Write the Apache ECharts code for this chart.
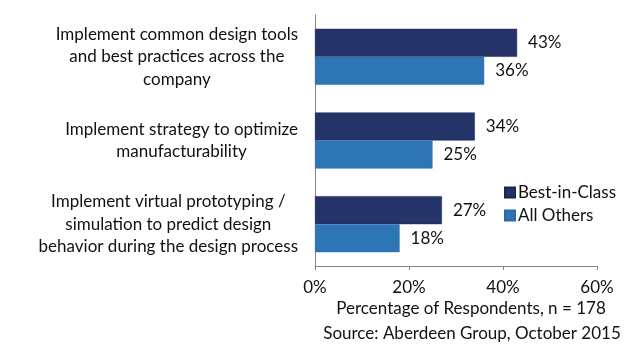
<!DOCTYPE html>
<html>
<head>
<meta charset="utf-8">
<script src="https://cdn.jsdelivr.net/npm/echarts@6/dist/echarts.min.js"></script>
<style>html,body{margin:0;padding:0;background:#fff}#c{width:644px;height:357px}</style>
</head>
<body>
<div id="c"></div>
<script>
var categories = [
  'Implement common design tools\nand best practices across the\ncompany',
  'Implement strategy to optimize\nmanufacturability',
  'Implement virtual prototyping /\nsimulation to predict design\nbehavior during the design process'
];
var bestInClass = [43, 34, 27];
var allOthers = [36, 25, 18];
var xTicks = [0, 20, 40, 60];
var seriesNames = ['Best-in-Class', 'All Others'];
var axisTitle = 'Percentage of Respondents, n = 178';
var sourceText = 'Source: Aberdeen Group, October 2015';

var FONT = 'Lato';
var FS = 17;
var chart = echarts.init(document.getElementById('c'), null, {renderer: 'canvas'});
chart.setOption({
  animation: false,
  textStyle: {fontFamily: FONT, color: '#111'},
  grid: {left: 315, right: 47, top: 15, height: 251, containLabel: false},
  legend: {
    orient: 'vertical', left: 499, top: 179, itemWidth: 10, itemHeight: 10, itemGap: 6,
    icon: 'rect',
    textStyle: {fontFamily: FONT, fontSize: FS, color: '#111', padding: [0, 0, 0, -2]},
    data: seriesNames
  },
  xAxis: {
    type: 'value', min: xTicks[0], max: xTicks[xTicks.length - 1], interval: 20,
    splitLine: {show: false},
    axisLine: {show: true, lineStyle: {color: '#868686', width: 1}},
    axisTick: {show: true, length: 4, lineStyle: {color: '#868686'}},
    axisLabel: {formatter: '{value}%', fontSize: FS, color: '#111', fontFamily: FONT, margin: 13}
  },
  yAxis: {
    type: 'category', inverse: true, data: categories,
    axisLine: {show: true, lineStyle: {color: '#868686', width: 1}},
    axisTick: {show: false},
    axisLabel: {
      fontSize: FS, fontFamily: FONT, color: '#111', margin: 17, lineHeight: 22.5,
      formatter: function (v) {
        return v.split('\n').map(function (s) { return '{c|' + s + '}'; }).join('\n');
      },
      rich: {c: {align: 'center', fontSize: FS, fontFamily: FONT, color: '#111', lineHeight: 22.5}}
    }
  },
  series: [
    {
      name: seriesNames[0], type: 'bar', data: bestInClass, barWidth: 28, barGap: '0%',
      itemStyle: {color: '#243468', borderColor: '#1b2656', borderWidth: 0.5},
      label: {show: true, position: 'right', distance: 11, formatter: '{c}%', fontSize: FS, fontFamily: FONT, color: '#111'}
    },
    {
      name: seriesNames[1], type: 'bar', data: allOthers, barWidth: 28, barGap: '0%',
      itemStyle: {color: '#2e75b6', borderColor: '#2a6aa8', borderWidth: 0.5},
      label: {show: true, position: 'right', distance: 11, formatter: '{c}%', fontSize: FS, fontFamily: FONT, color: '#111'}
    }
  ],
  graphic: [
    {type: 'text', x: 471, y: 309, style: {text: axisTitle, font: FS + 'px ' + FONT, fill: '#111', align: 'center', verticalAlign: 'middle'}},
    {type: 'text', x: 472, y: 334, style: {text: sourceText, font: FS + 'px ' + FONT, fill: '#111', align: 'center', verticalAlign: 'middle'}}
  ]
});
</script>
</body>
</html>
